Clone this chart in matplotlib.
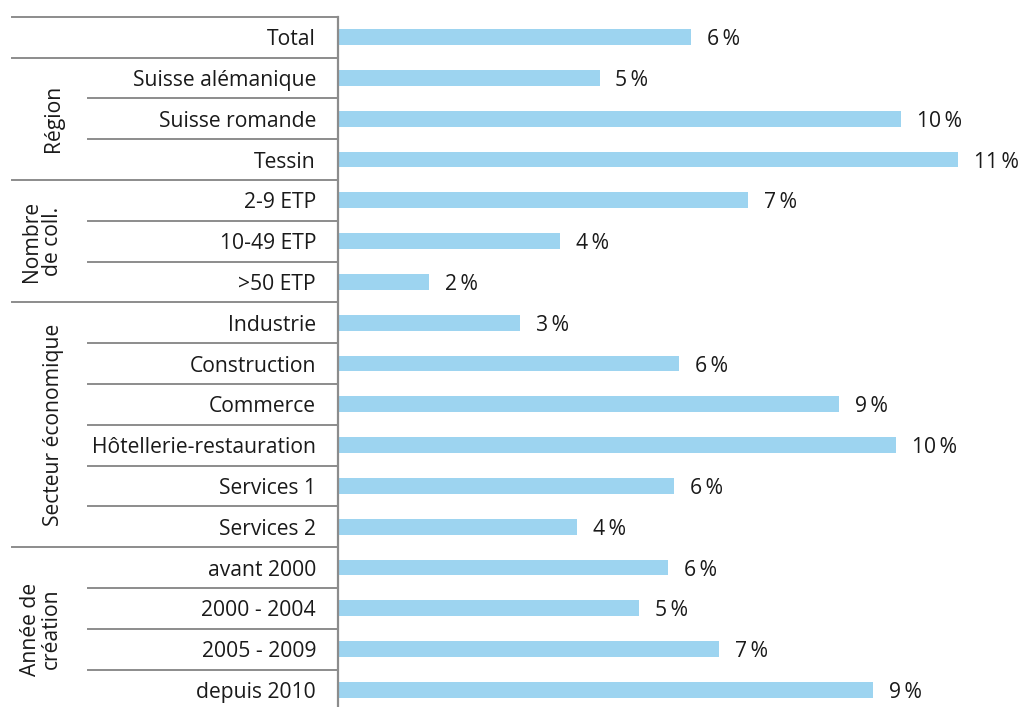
import matplotlib
matplotlib.use("Agg")
import matplotlib.pyplot as plt
from matplotlib.transforms import blended_transform_factory

# ---- data ----
categories = ["Total",
              "Suisse alémanique", "Suisse romande", "Tessin",
              "2-9 ETP", "10-49 ETP", ">50 ETP",
              "Industrie", "Construction", "Commerce", "Hôtellerie-restauration",
              "Services 1", "Services 2",
              "avant 2000", "2000 - 2004", "2005 - 2009", "depuis 2010"]
values = [6.2,
          4.6, 9.9, 10.9,
          7.2, 3.9, 1.6,
          3.2, 6.0, 8.8, 9.8, 5.9, 4.2,
          5.8, 5.3, 6.7, 9.4]
value_labels = ["6\u2009%", "5\u2009%", "10\u2009%", "11\u2009%", "7\u2009%", "4\u2009%", "2\u2009%",
                "3\u2009%", "6\u2009%", "9\u2009%", "10\u2009%", "6\u2009%", "4\u2009%",
                "6\u2009%", "5\u2009%", "7\u2009%", "9\u2009%"]
group_names = ["", "Région", "Nombre\nde coll.", "Secteur économique", "Année de\ncréation"]
group_sizes = [1, 3, 3, 6, 4]

# ---- style ----
W, H, DPI = 1021, 707, 100
BAR = "#9dd4f0"
GRID = "#8c8c8c"
TXT = "#1a1a1a"
FONT = ["Open Sans", "DejaVu Sans"]
FS = 15.2

plt.rcParams["font.family"] = FONT

fig = plt.figure(figsize=(W / DPI, H / DPI), dpi=DPI)
axis_x = 337.5
top_px = 16.7
pitch = 40.8
ax = fig.add_axes([axis_x / W, 0, 1 - axis_x / W, (H - top_px) / H])
n = len(categories)
rows_visible = (H - top_px) / pitch
ax.set_xlim(0, 12)
ax.set_ylim(-0.5 + rows_visible, -0.5)

y = list(range(n))
ax.barh(y, values, height=0.39, color=BAR, edgecolor="none")

for yi, v, lab in zip(y, values, value_labels):
    ax.annotate(lab, xy=(v, yi), xytext=(11.5, 0), textcoords="offset points",
                ha="left", va="center_baseline", fontsize=FS, color=TXT)

for s in ["top", "right", "bottom"]:
    ax.spines[s].set_visible(False)
ax.spines["left"].set_color(GRID)
ax.spines["left"].set_linewidth(1.6)
ax.set_xticks([])
ax.set_yticks([])

tr = blended_transform_factory(fig.transFigure, ax.transData)

# category labels
for yi, c in zip(y, categories):
    ax.text(316 / W, yi, c, transform=tr, ha="right", va="center_baseline",
            fontsize=FS, color=TXT, clip_on=False)

# separators and group labels
group_x = {"Région": 53.5, "Nombre\nde coll.": 42, "Secteur économique": 54, "Année de\ncréation": 41}
start = 0
ax.plot([12 / W, axis_x / W], [-0.5, -0.5], transform=tr, color=GRID, lw=1.4, clip_on=False)
for name, size in zip(group_names, group_sizes):
    end = start + size
    if size > 1:
        for k in range(start + 1, end):
            ax.plot([88 / W, axis_x / W], [k - 0.5, k - 0.5], transform=tr,
                    color=GRID, lw=1.4, clip_on=False)
    if end < n:
        ax.plot([12 / W, axis_x / W], [end - 0.5, end - 0.5], transform=tr,
                color=GRID, lw=1.4, clip_on=False)
    if name:
        yc = (start + end - 1) / 2
        if end == n:
            yc = (start - 0.5 + rows_visible - 0.5 + 0.1) / 2
        ax.text(group_x[name] / W, yc, name, transform=tr, rotation=90,
                ha="center", va="center", multialignment="center",
                fontsize=FS, color=TXT, clip_on=False, linespacing=0.95)
    start = end

fig.savefig("out.png", dpi=DPI)
